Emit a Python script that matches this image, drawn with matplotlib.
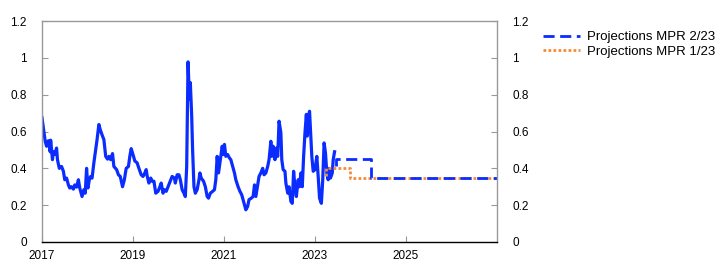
import matplotlib
matplotlib.use("Agg")
import matplotlib.pyplot as plt
from matplotlib.ticker import FormatStrFormatter, FuncFormatter

# ================= DATA ================= #
hist_year = [
    2017.00, 2017.07, 2017.10, 2017.14, 2017.18, 2017.19, 2017.23, 2017.25, 2017.28, 2017.32,
    2017.34, 2017.38, 2017.43, 2017.47, 2017.50, 2017.54, 2017.58, 2017.61, 2017.65, 2017.69,
    2017.72, 2017.76, 2017.80, 2017.83, 2017.88, 2017.92, 2017.95, 2017.98, 2018.01, 2018.04,
    2018.07, 2018.10, 2018.14, 2018.18, 2018.21, 2018.25, 2018.28, 2018.33, 2018.36, 2018.40,
    2018.44, 2018.47, 2018.51, 2018.55, 2018.58, 2018.64, 2018.68, 2018.72, 2018.77, 2018.81,
    2018.85, 2018.90, 2018.93, 2018.96, 2019.00, 2019.04, 2019.09, 2019.13, 2019.18, 2019.22,
    2019.26, 2019.29, 2019.31, 2019.35, 2019.39, 2019.42, 2019.46, 2019.50, 2019.55, 2019.58,
    2019.62, 2019.66, 2019.69, 2019.73, 2019.77, 2019.82, 2019.86, 2019.91, 2019.93, 2019.97,
    2020.01, 2020.04, 2020.08, 2020.12, 2020.15, 2020.18, 2020.21, 2020.24, 2020.26, 2020.29,
    2020.31, 2020.34, 2020.37, 2020.41, 2020.45, 2020.47, 2020.50, 2020.55, 2020.59, 2020.63,
    2020.66, 2020.70, 2020.75, 2020.79, 2020.82, 2020.85, 2020.88, 2020.91, 2020.96, 2020.99,
    2021.01, 2021.04, 2021.08, 2021.12, 2021.15, 2021.19, 2021.23, 2021.26, 2021.31, 2021.35,
    2021.39, 2021.44, 2021.48, 2021.52, 2021.55, 2021.60, 2021.64, 2021.67, 2021.70, 2021.74,
    2021.77, 2021.81, 2021.85, 2021.88, 2021.92, 2021.96, 2021.99, 2022.03, 2022.05, 2022.08,
    2022.12, 2022.15, 2022.18, 2022.21, 2022.25, 2022.27, 2022.30, 2022.34, 2022.36, 2022.40,
    2022.43, 2022.47, 2022.50, 2022.53, 2022.56, 2022.59, 2022.63, 2022.66, 2022.69, 2022.72,
    2022.75, 2022.78, 2022.81, 2022.83, 2022.86, 2022.88, 2022.91, 2022.93, 2022.96, 2023.00,
    2023.04, 2023.07, 2023.10, 2023.14, 2023.17, 2023.20, 2023.23, 2023.26, 2023.29, 2023.31,
    2023.34, 2023.38, 2023.40, 2023.43,
]
hist_value = [
    0.675, 0.547, 0.520, 0.550, 0.490, 0.553, 0.447, 0.490, 0.475, 0.510,
    0.447, 0.400, 0.410, 0.384, 0.338, 0.347, 0.310, 0.293, 0.300, 0.287,
    0.310, 0.298, 0.338, 0.293, 0.247, 0.284, 0.265, 0.400, 0.293, 0.338,
    0.356, 0.347, 0.430, 0.500, 0.556, 0.638, 0.610, 0.575, 0.556, 0.465,
    0.450, 0.465, 0.447, 0.480, 0.410, 0.393, 0.365, 0.356, 0.300, 0.338,
    0.400, 0.410, 0.465, 0.507, 0.475, 0.440, 0.430, 0.400, 0.365, 0.356,
    0.375, 0.393, 0.360, 0.320, 0.347, 0.330, 0.330, 0.265, 0.275, 0.293,
    0.320, 0.265, 0.284, 0.275, 0.300, 0.330, 0.356, 0.347, 0.320, 0.365,
    0.365, 0.338, 0.284, 0.265, 0.247, 0.410, 0.978, 0.775, 0.865, 0.684,
    0.500, 0.300, 0.265, 0.284, 0.338, 0.375, 0.347, 0.330, 0.300, 0.247,
    0.238, 0.265, 0.275, 0.284, 0.338, 0.465, 0.375, 0.430, 0.520, 0.475,
    0.530, 0.465, 0.475, 0.456, 0.447, 0.410, 0.375, 0.338, 0.300, 0.275,
    0.256, 0.210, 0.175, 0.193, 0.230, 0.238, 0.247, 0.310, 0.247, 0.310,
    0.356, 0.375, 0.400, 0.365, 0.375, 0.410, 0.447, 0.547, 0.465, 0.520,
    0.447, 0.510, 0.465, 0.656, 0.593, 0.447, 0.393, 0.384, 0.320, 0.265,
    0.300, 0.220, 0.210, 0.384, 0.300, 0.247, 0.338, 0.300, 0.375, 0.300,
    0.465, 0.593, 0.693, 0.575, 0.684, 0.710, 0.556, 0.465, 0.384, 0.393,
    0.465, 0.356, 0.238, 0.210, 0.338, 0.538, 0.484, 0.375, 0.338, 0.400,
    0.347, 0.375, 0.447, 0.490,
]

proj2_year = [2023.47, 2023.47, 2024.22, 2024.22, 2027.0]
proj2_value = [0.41, 0.45, 0.45, 0.35, 0.35]

proj1_year = [2023.24, 2023.24, 2023.77, 2023.77, 2027.0]
proj1_value = [0.36, 0.40, 0.40, 0.35, 0.35]

X_TICKS = [2017, 2019, 2021, 2023, 2025]
Y_TICKS = [0, 0.2, 0.4, 0.6, 0.8, 1.0, 1.2]

# ================= PLOT ================= #
plt.rcParams["font.family"] = ["Liberation Sans", "DejaVu Sans"]
plt.rcParams["font.size"] = 8.5

BLUE = "#0a2cff"
ORANGE = "#f28c3a"
GREY = "#999999"

fig = plt.figure(figsize=(7.22, 2.78), dpi=100)
ax = fig.add_axes([42 / 722, 1 - 242 / 278, (497 - 42) / 722, (242 - 21) / 278])

ax.plot(hist_year, hist_value, color=BLUE, lw=2.3, solid_joinstyle="round")
ax.plot(proj1_year, proj1_value, color=ORANGE, lw=2.0, linestyle=(0, (1, 0.8)),
        label="Projections MPR 1/23")
ax.plot(proj2_year, proj2_value, color=BLUE, lw=2.0, linestyle=(0, (4, 2)),
        label="Projections MPR 2/23")

ax.set_xlim(2017, 2027)
ax.set_ylim(0, 1.2)
ax.set_xticks(X_TICKS)
ax.set_yticks(Y_TICKS)
ax.xaxis.set_major_formatter(FormatStrFormatter("%d"))
ax.yaxis.set_major_formatter(FuncFormatter(lambda v, p: f"{v:g}"))

# ---- spines ----
for s in ["left", "right", "top"]:
    ax.spines[s].set_color(GREY)
    ax.spines[s].set_linewidth(1.0)
ax.spines["bottom"].set_color("black")
ax.spines["bottom"].set_linewidth(1.0)

# ---- ticks ----
ax.tick_params(axis="y", direction="in", length=4, color=GREY, pad=11,
               left=True, right=True, labelleft=True, labelright=True)
ax.tick_params(axis="x", direction="in", length=4, color=GREY, pad=6)

# ---- legend (outside, right) ----
handles, labels = ax.get_legend_handles_labels()
order = [1, 0]
fig.legend([handles[i] for i in order], [labels[i] for i in order],
           loc="upper left", bbox_to_anchor=(543 / 722, 1 - 31 / 278),
           frameon=False, borderpad=0, handlelength=2.8, handletextpad=0.5,
           labelspacing=0.2, borderaxespad=0, fontsize=9.5)

fig.savefig("out.png", dpi=100)
